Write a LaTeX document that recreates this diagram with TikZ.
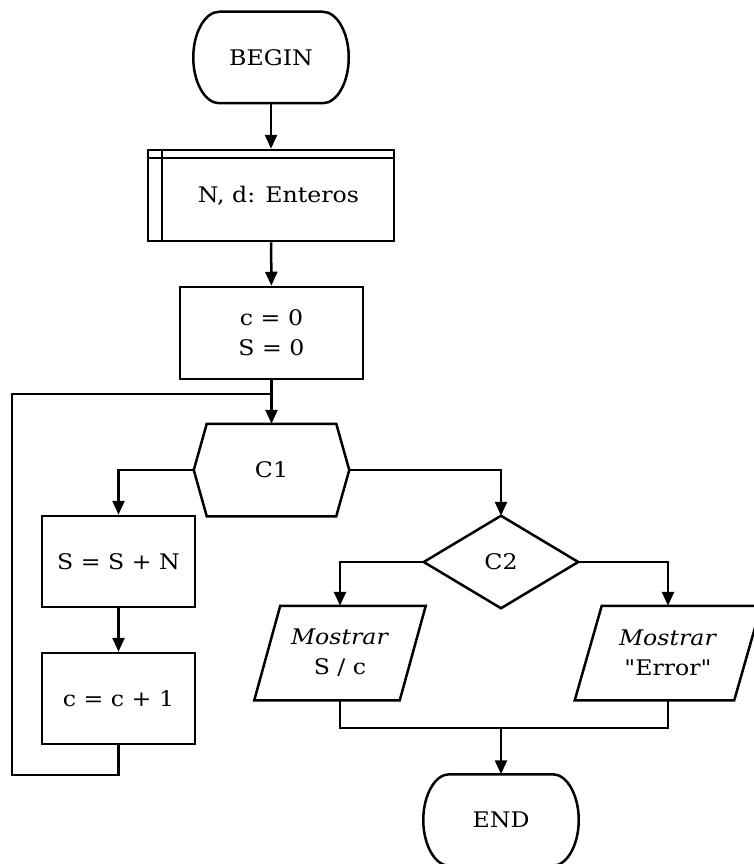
\documentclass[tikz,border=0pt]{standalone}
\usepackage{fontspec}
\setmainfont[FakeStretch=1.1]{DejaVu Serif}
\newfontfamily\plainqfont[FakeStretch=1.1]{DejaVu Serif}
\newcommand\sq{{\plainqfont"}}
\usetikzlibrary{arrows.meta}

\begin{document}
\begin{tikzpicture}[x=1pt,y=-1pt,line width=2.5pt,
  txt/.style={font=\fontsize{21.5}{30}\selectfont,align=center},
  box/.style={draw,rectangle,txt,inner sep=0pt},
  ghost/.style={rectangle,txt,inner sep=0pt},
  flow/.style={-{Triangle[length=14pt,width=12pt]}}]

\useasboundingbox (0,0) rectangle (754,864);

% terminals, steps and decisions
\node[ghost,minimum width=153pt,minimum height=89pt] (begin) at (271,57.5) {BEGIN};
\node[draw,rectangle,inner sep=0pt,font=\fontsize{21.5}{30}\selectfont,
      minimum width=246pt,minimum height=91pt] (decl) at (271,195.5) {\hspace*{15pt}N, d: Enteros};
\node[box,minimum width=183pt,minimum height=92pt] (init) at (271.5,333) {c = 0\\S = 0};
\node[ghost,minimum width=153pt,minimum height=90pt] (c1) at (271.5,470) {C1};
\node[box,minimum width=153pt,minimum height=91pt] (sum) at (118.5,561.5) {S = S + N};
\node[box,minimum width=153pt,minimum height=91pt] (inc) at (118.5,698.5) {c = c + 1};
\node[ghost,minimum width=152pt,minimum height=90pt] (c2) at (501,562) {C2};
\node[ghost,minimum width=169pt,minimum height=92pt] (io1) at (340,653) {\textit{Mostrar}\\S / c};
\node[ghost,minimum width=184pt,minimum height=92pt] (io2) at (668,653) {\textit{Mostrar}\\\sq Error\sq};
\node[ghost,minimum width=153pt,minimum height=89pt] (end) at (501,820) {END};

% outlines of the custom shapes
\foreach \n in {begin,end}{
  \draw ([xshift=26pt]\n.north west) -- ([xshift=-26pt]\n.north east)
    .. controls ([xshift=-11.6pt]\n.north east) and ([yshift=24.6pt]\n.east) .. (\n.east)
    .. controls ([yshift=-24.6pt]\n.east) and ([xshift=-11.6pt]\n.south east) .. ([xshift=-26pt]\n.south east)
    -- ([xshift=26pt]\n.south west)
    .. controls ([xshift=11.6pt]\n.south west) and ([yshift=-24.6pt]\n.west) .. (\n.west)
    .. controls ([yshift=24.6pt]\n.west) and ([xshift=11.6pt]\n.north west) .. ([xshift=26pt]\n.north west)
    -- cycle;
}
\draw ([xshift=15pt]decl.north west) -- ([xshift=15pt]decl.south west);
\draw ([yshift=-9pt]decl.north west) -- ([yshift=-9pt]decl.north east);
\draw (c1.west) -- ([xshift=13pt]c1.north west) -- ([xshift=-13pt]c1.north east)
  -- (c1.east) -- ([xshift=-13pt]c1.south east) -- ([xshift=13pt]c1.south west) -- cycle;
\draw (c2.west) -- (c2.north) -- (c2.east) -- (c2.south) -- cycle;
\draw ([xshift=26pt]io1.north west) -- (io1.north east)
  -- ([xshift=-26pt]io1.south east) -- (io1.south west) -- cycle;
\draw ([xshift=27pt]io2.north west) -- (io2.north east)
  -- ([xshift=-27pt]io2.south east) -- (io2.south west) -- cycle;

% connectors
\coordinate (join) at (271.5,394);
\coordinate (lc) at (12,775);
\coordinate (merge) at (501,728);
\draw[flow] (begin) -- (decl);
\draw[flow] (decl) -- (init);
\draw[flow] (init) -- (c1);
\draw[flow] (c1.west) -| (sum.north);
\draw[flow] (sum) -- (inc);
\draw (inc.south) |- (lc) |- (join);
\draw[flow] (c1.east) -| (c2.north);
\draw[flow] (c2.west) -| (io1.north);
\draw[flow] (c2.east) -| (io2.north);
\draw (io1.south) |- (merge);
\draw (io2.south) |- (merge);
\draw[flow] (merge) -- (end);
\end{tikzpicture}
\end{document}
